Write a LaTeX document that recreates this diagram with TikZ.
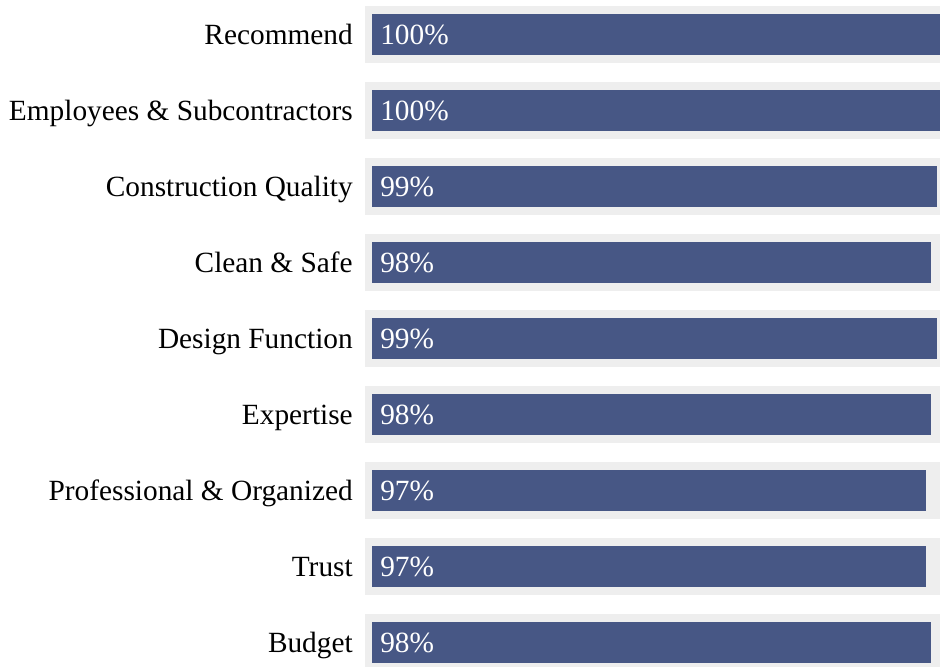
\documentclass[tikz,border=0pt]{standalone}
\usepackage{fontspec}
\setmainfont{Liberation Serif}
\definecolor{barblue}{HTML}{475785}
\definecolor{bargrey}{HTML}{EEEEEE}
\tikzset{
  track/.style={fill=bargrey, draw=none},
  bar/.style={fill=barblue, draw=none},
  rowlabel/.style={anchor=base east, inner sep=0pt, font=\fontsize{22}{26}\selectfont},
  rowvalue/.style={anchor=base west, inner sep=0pt, text=white, font=\fontsize{22}{26}\selectfont}
}
\begin{document}
\begin{tikzpicture}[x=0.75pt, y=-0.75pt]
\useasboundingbox (0,0) rectangle (940,667);

% Recommend
\fill[track] (365,6) rectangle (940,63);
\fill[bar] (372,14) rectangle (940,55);
\node[rowlabel] (lRecommend) at (353,44.5) {Recommend};
\node[rowvalue] (vRecommend) at (380,44.5) {100\%};

% Employees & Subcontractors
\fill[track] (365,82) rectangle (940,139);
\fill[bar] (372,90) rectangle (940,131);
\node[rowlabel] (lEmployees) at (353,120.5) {Employees \& Subcontractors};
\node[rowvalue] (vEmployees) at (380,120.5) {100\%};

% Construction Quality
\fill[track] (365,158) rectangle (940,215);
\fill[bar] (372,166) rectangle (937,207);
\node[rowlabel] (lQuality) at (353,196.5) {Construction Quality};
\node[rowvalue] (vQuality) at (380,196.5) {99\%};

% Clean & Safe
\fill[track] (365,234) rectangle (940,291);
\fill[bar] (372,242) rectangle (931,283);
\node[rowlabel] (lClean) at (353,272.5) {Clean \& Safe};
\node[rowvalue] (vClean) at (380,272.5) {98\%};

% Design Function
\fill[track] (365,310) rectangle (940,367);
\fill[bar] (372,318) rectangle (937,359);
\node[rowlabel] (lDesign) at (353,348.5) {Design Function};
\node[rowvalue] (vDesign) at (380,348.5) {99\%};

% Expertise
\fill[track] (365,386) rectangle (940,443);
\fill[bar] (372,394) rectangle (931,435);
\node[rowlabel] (lExpertise) at (353,424.5) {Expertise};
\node[rowvalue] (vExpertise) at (380,424.5) {98\%};

% Professional & Organized
\fill[track] (365,462) rectangle (940,519);
\fill[bar] (372,470) rectangle (926,511);
\node[rowlabel] (lProfessional) at (353,500.5) {Professional \& Organized};
\node[rowvalue] (vProfessional) at (380,500.5) {97\%};

% Trust
\fill[track] (365,538) rectangle (940,595);
\fill[bar] (372,546) rectangle (926,587);
\node[rowlabel] (lTrust) at (353,576.5) {Trust};
\node[rowvalue] (vTrust) at (380,576.5) {97\%};

% Budget
\fill[track] (365,614) rectangle (940,667);
\fill[bar] (372,622) rectangle (931,663);
\node[rowlabel] (lBudget) at (353,652.5) {Budget};
\node[rowvalue] (vBudget) at (380,652.5) {98\%};

\end{tikzpicture}
\end{document}
